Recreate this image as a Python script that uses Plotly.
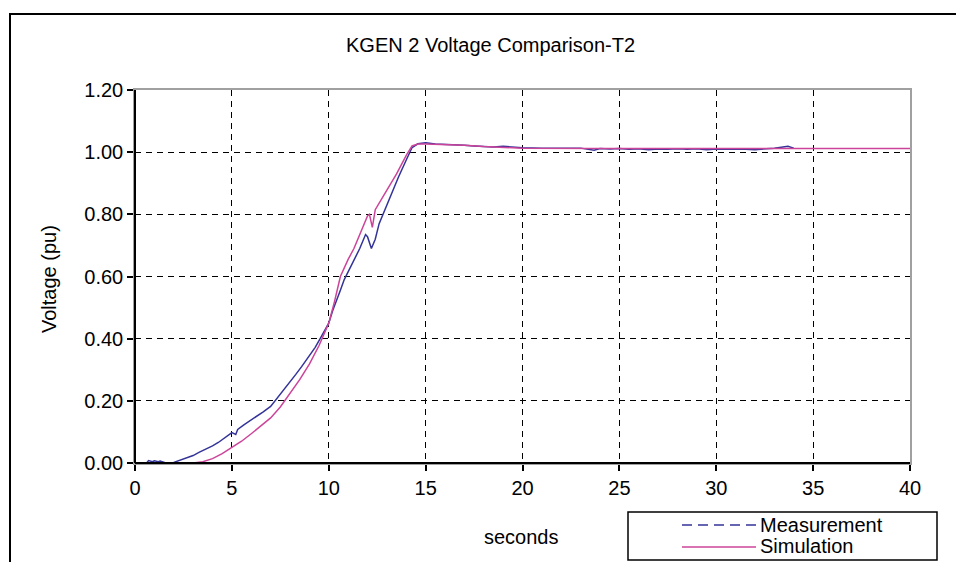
import plotly.graph_objects as go

# ---- data ----
t_meas = [0.0, 0.6, 0.7, 0.9, 1.0, 1.2, 1.3, 1.5, 1.6, 2.0, 2.3, 2.6, 3.0, 3.3, 3.6,
          4.0, 4.3, 4.6, 5.0, 5.2, 5.3, 5.6, 6.0, 6.3, 6.6, 7.0, 7.3, 7.6, 8.0, 8.3, 8.6,
          9.0, 9.3, 9.6, 10.0, 10.2, 10.4, 10.6, 10.8, 11.0, 11.3, 11.6, 11.9, 12.0,
          12.2, 12.4, 12.6, 12.8, 13.0, 13.3, 13.6, 14.0, 14.3, 14.6, 15.0, 15.5,
          16.0, 16.5, 17.0, 17.5, 18.0, 18.5, 19.0, 19.5, 20.0, 21.0, 22.0, 23.0,
          23.7, 24.0, 24.5, 25.0, 25.5, 26.0, 26.5, 27.0, 27.5, 28.0, 28.5, 29.0,
          29.5, 30.0, 30.5, 31.0, 31.5, 32.0, 33.0, 33.7, 34.0]
v_meas = [0.000, 0.000, 0.008, 0.004, 0.007, 0.004, 0.006, 0.001, 0.000, 0.002, 0.008,
          0.015, 0.024, 0.034, 0.042, 0.055, 0.066, 0.080, 0.098, 0.092, 0.108, 0.122, 0.138,
          0.150, 0.164, 0.182, 0.205, 0.228, 0.262, 0.285, 0.310, 0.345, 0.372, 0.405,
          0.450, 0.490, 0.520, 0.556, 0.590, 0.615, 0.650, 0.690, 0.735, 0.728, 0.690,
          0.720, 0.770, 0.800, 0.835, 0.875, 0.920, 0.975, 1.015, 1.027, 1.030, 1.026,
          1.025, 1.025, 1.022, 1.020, 1.019, 1.017, 1.019, 1.016, 1.014, 1.013, 1.013,
          1.013, 1.006, 1.012, 1.010, 1.012, 1.009, 1.011, 1.008, 1.010, 1.009, 1.011,
          1.009, 1.011, 1.008, 1.010, 1.009, 1.010, 1.009, 1.008, 1.013, 1.019, 1.013]

t_sim = [0.0, 3.0, 3.5, 4.0, 4.5, 5.0, 5.5, 6.0, 6.5, 7.0, 7.5, 8.0, 8.5, 9.0, 9.5,
         10.0, 10.3, 10.6, 11.0, 11.3, 11.6, 12.0, 12.1, 12.25, 12.4, 12.8, 13.0,
         13.5, 14.0, 14.3, 14.6, 15.0, 16.0, 17.0, 18.0, 19.0, 20.0, 25.0, 30.0,
         35.0, 40.0]
v_sim = [0.0, 0.0, 0.004, 0.014, 0.030, 0.050, 0.070, 0.094, 0.118, 0.145, 0.180,
         0.222, 0.268, 0.318, 0.378, 0.450, 0.520, 0.600, 0.655, 0.690, 0.735, 0.795,
         0.800, 0.758, 0.815, 0.855, 0.878, 0.930, 0.990, 1.020, 1.026, 1.026, 1.025,
         1.022, 1.018, 1.015, 1.013, 1.012, 1.012, 1.012, 1.012]

x_ticks = [0, 5, 10, 15, 20, 25, 30, 35, 40]
y_ticks = [0.0, 0.2, 0.4, 0.6, 0.8, 1.0, 1.2]

MEAS_COLOR = "#333399"
SIM_COLOR = "#CC4499"
FONT = "Liberation Sans, Arial, sans-serif"

# ---- layout geometry (pixels) ----
W, H = 956, 562
L, R, T, B = 135, 910, 90, 463
PW, PH = R - L, B - T


def px(x):
    return (x - L) / PW


def py(y):
    return (B - y) / PH


fig = go.Figure()
fig.add_trace(go.Scatter(x=t_meas, y=v_meas, mode="lines", name="Measurement",
                         line=dict(color=MEAS_COLOR, width=1.5), showlegend=False))
fig.add_trace(go.Scatter(x=t_sim, y=v_sim, mode="lines", name="Simulation",
                         line=dict(color=SIM_COLOR, width=1.5), showlegend=False))

axis_common = dict(
    showgrid=True, gridcolor="black", gridwidth=1, griddash="6px,5px",
    showline=True, linecolor="#A0A0A0", linewidth=1.5, mirror=True,
    ticks="outside", ticklen=6, tickcolor="black", tickwidth=1.5,
    zeroline=False, tickfont=dict(family=FONT, size=20, color="black"),
)

fig.update_xaxes(range=[0, 40], tickvals=x_ticks, **axis_common)
fig.update_yaxes(range=[0, 1.2], tickvals=y_ticks, tickformat=".2f", **axis_common)

shapes = [
    # outer chart frame
    dict(type="rect", xref="paper", yref="paper", x0=px(10), x1=px(975), y0=py(590), y1=py(14),
         line=dict(color="black", width=2), layer="below"),
    # black left & bottom axis lines
    dict(type="line", xref="paper", yref="paper", x0=0, x1=0, y0=0, y1=1,
         line=dict(color="black", width=2)),
    dict(type="line", xref="paper", yref="paper", x0=0, x1=1, y0=0, y1=0,
         line=dict(color="black", width=2)),
    # legend box
    dict(type="rect", xref="paper", yref="paper", x0=px(628), x1=px(937), y0=py(560), y1=py(512),
         line=dict(color="black", width=1.5), fillcolor="white"),
    dict(type="line", xref="paper", yref="paper", x0=px(682), x1=px(756), y0=py(525), y1=py(525),
         line=dict(color=MEAS_COLOR, width=1.5, dash="10px,6px")),
    dict(type="line", xref="paper", yref="paper", x0=px(682), x1=px(756), y0=py(547), y1=py(547),
         line=dict(color=SIM_COLOR, width=1.5)),
]

annotations = [
    dict(text="KGEN 2 Voltage Comparison-T2", xref="paper", yref="paper", x=px(490), y=py(45),
         showarrow=False, font=dict(family=FONT, size=20, color="black"), xanchor="center", yanchor="middle"),
    dict(text="Voltage (pu)", xref="paper", yref="paper", x=px(49), y=py(279), textangle=-90,
         showarrow=False, font=dict(family=FONT, size=20, color="black"), xanchor="center", yanchor="middle"),
    dict(text="seconds", xref="paper", yref="paper", x=px(521), y=py(537),
         showarrow=False, font=dict(family=FONT, size=20, color="black"), xanchor="center", yanchor="middle"),
    dict(text="Measurement", xref="paper", yref="paper", x=px(758), y=py(525),
         showarrow=False, font=dict(family=FONT, size=20, color="black"), xanchor="left", yanchor="middle"),
    dict(text="Simulation", xref="paper", yref="paper", x=px(758), y=py(546),
         showarrow=False, font=dict(family=FONT, size=20, color="black"), xanchor="left", yanchor="middle"),
]

fig.update_layout(
    width=W, height=H,
    margin=dict(l=L, r=W - R, t=T, b=H - B, autoexpand=False),
    paper_bgcolor="white", plot_bgcolor="white",
    showlegend=False,
    shapes=shapes, annotations=annotations,
    font=dict(family=FONT, size=20, color="black"),
)

fig.write_html(
    "out.html",
    config={"displayModeBar": False},
    post_script="document.body.style.margin='0';document.body.style.overflow='hidden';",
)
